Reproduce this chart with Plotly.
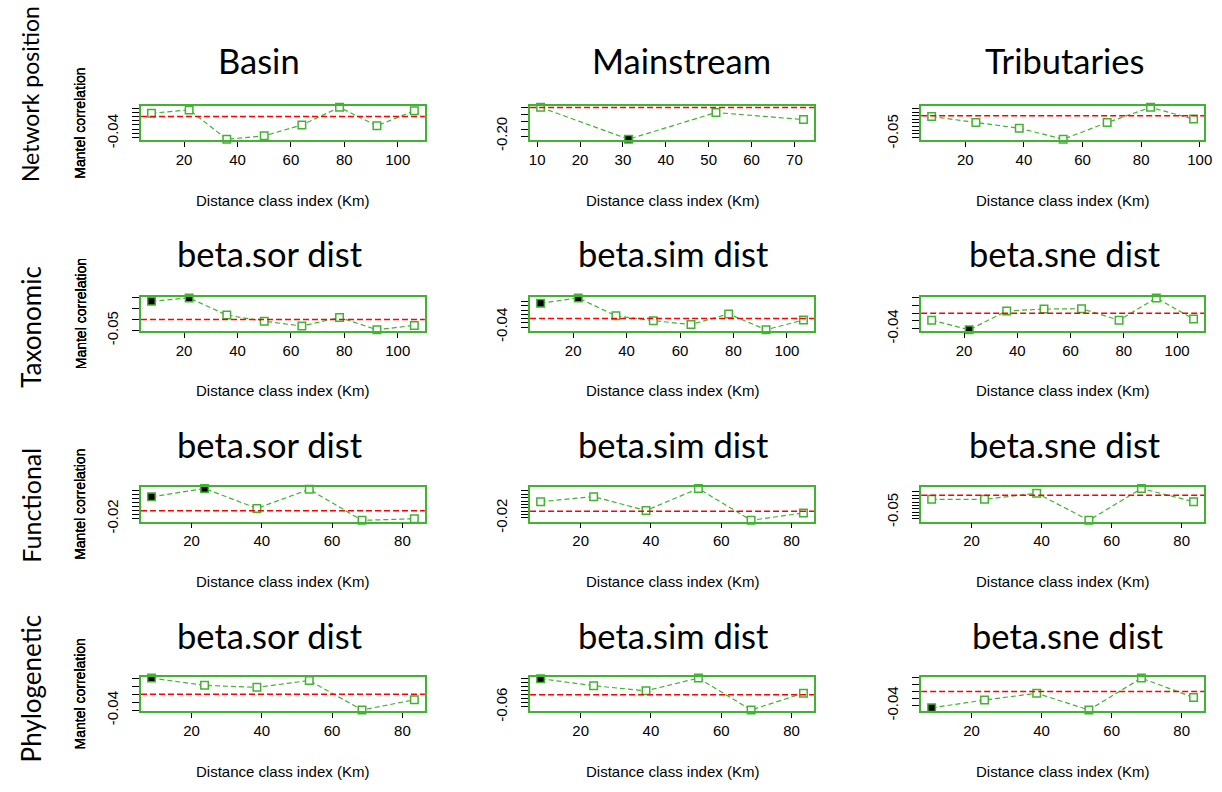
import plotly.graph_objects as go

W, H = 1222, 792

# ---------------- data ----------------
row_labels = ["Network position", "Taxonomic", "Functional", "Phylogenetic"]
panel_titles = ["Basin", "Mainstream", "Tributaries",
                "beta.sor dist", "beta.sim dist", "beta.sne dist",
                "beta.sor dist", "beta.sim dist", "beta.sne dist",
                "beta.sor dist", "beta.sim dist", "beta.sne dist"]

# distance class index (Km)
x_basin = [7.8, 21.9, 36.0, 50.0, 64.1, 78.2, 92.2, 106.2]
x_main = [10.8, 31.3, 51.7, 72.1]
x_trib = [8.5, 23.6, 38.4, 53.4, 68.4, 83.2, 97.9]
x_six = [8.6, 23.7, 38.6, 53.5, 68.5, 83.4]

# Mantel correlation values
r_net_basin = [0.008, 0.016, -0.054, -0.046, -0.020, 0.022, -0.022, 0.014]
r_net_main = [0.001, -0.221, -0.035, -0.084]
r_net_trib = [-0.002, -0.019, -0.035, -0.066, -0.019, 0.024, -0.009]
r_tax_sor = [0.083, 0.098, 0.020, -0.008, -0.030, 0.009, -0.047, -0.027]
r_tax_sim = [0.073, 0.098, 0.013, -0.010, -0.028, 0.022, -0.053, -0.007]
r_tax_sne = [-0.018, -0.043, 0.006, 0.011, 0.012, -0.018, 0.040, -0.015]
r_fun_sor = [0.035, 0.056, 0.006, 0.054, -0.024, -0.020]
r_fun_sim = [0.028, 0.043, 0.002, 0.067, -0.027, -0.005]
r_fun_sne = [-0.012, -0.012, 0.006, -0.074, 0.020, -0.019]
r_phy_sor = [0.040, 0.022, 0.017, 0.034, -0.039, -0.014]
r_phy_sim = [0.080, 0.045, 0.020, 0.083, -0.075, 0.008]
r_phy_sne = [-0.046, -0.024, -0.005, -0.052, 0.038, -0.017]

# significant classes (filled squares)
s_net_basin = [0, 0, 0, 0, 0, 0, 0, 0]
s_net_main = [0, 1, 0, 0]
s_net_trib = [0, 0, 0, 0, 0, 0, 0]
s_tax_sor = [1, 1, 0, 0, 0, 0, 0, 0]
s_tax_sim = [1, 1, 0, 0, 0, 0, 0, 0]
s_tax_sne = [0, 1, 0, 0, 0, 0, 0, 0]
s_fun_sor = [1, 1, 0, 0, 0, 0]
s_fun_sim = [0, 0, 0, 0, 0, 0]
s_fun_sne = [0, 0, 0, 0, 0, 0]
s_phy_sor = [1, 0, 0, 0, 0, 0]
s_phy_sim = [1, 0, 0, 0, 0, 0]
s_phy_sne = [1, 0, 0, 0, 0, 0]

# x tick values
xt_100 = [20, 40, 60, 80, 100]
xt_70 = [10, 20, 30, 40, 50, 60, 70]
xt_80 = [20, 40, 60, 80]

# y tick values and the single label R could fit
yt_net_basin = [-0.05, -0.04, -0.03, -0.02, -0.01, 0.0, 0.01, 0.02]
yt_net_main = [-0.20, -0.15, -0.10, -0.05, 0.0]
yt_net_trib = [-0.06, -0.05, -0.04, -0.03, -0.02, -0.01, 0.0, 0.01, 0.02]
yt_tax_sor = [-0.05, 0.0, 0.05, 0.10]
yt_tax_sim = [-0.04, -0.02, 0.0, 0.02, 0.04, 0.06, 0.08]
yt_tax_sne = [-0.04, -0.02, 0.0, 0.02, 0.04]
yt_fun_sor = [-0.02, -0.01, 0.0, 0.01, 0.02, 0.03, 0.04, 0.05]
yt_fun_sim = [-0.02, -0.01, 0.0, 0.01, 0.02, 0.03, 0.04, 0.05, 0.06]
yt_fun_sne = [-0.07, -0.06, -0.05, -0.04, -0.03, -0.02, -0.01, 0.0, 0.01]
yt_phy_sor = [-0.04, -0.02, 0.0, 0.02, 0.04]
yt_phy_sim = [-0.06, -0.04, -0.02, 0.0, 0.02, 0.04, 0.06, 0.08]
yt_phy_sne = [-0.04, -0.02, 0.0, 0.02, 0.04]
ylab = ["-0.04", "-0.20", "-0.05", "-0.05", "-0.04", "-0.04",
        "-0.02", "-0.02", "-0.05", "-0.04", "-0.06", "-0.04"]

panels = [
    (x_basin, r_net_basin, s_net_basin, xt_100, yt_net_basin),
    (x_main, r_net_main, s_net_main, xt_70, yt_net_main),
    (x_trib, r_net_trib, s_net_trib, xt_100, yt_net_trib),
    (x_basin, r_tax_sor, s_tax_sor, xt_100, yt_tax_sor),
    (x_basin, r_tax_sim, s_tax_sim, xt_100, yt_tax_sim),
    (x_basin, r_tax_sne, s_tax_sne, xt_100, yt_tax_sne),
    (x_six, r_fun_sor, s_fun_sor, xt_80, yt_fun_sor),
    (x_six, r_fun_sim, s_fun_sim, xt_80, yt_fun_sim),
    (x_six, r_fun_sne, s_fun_sne, xt_80, yt_fun_sne),
    (x_six, r_phy_sor, s_phy_sor, xt_80, yt_phy_sor),
    (x_six, r_phy_sim, s_phy_sim, xt_80, yt_phy_sim),
    (x_six, r_phy_sne, s_phy_sne, xt_80, yt_phy_sne),
]

# ---------------- layout geometry (pixels) ----------------
col_px = [(141, 427), (533, 819), (927, 1212)]
row_px = [(108, 143), (302, 337), (496, 531), (689, 724)]
title_cx = [[260, 686, 1071], [271, 677, 1072], [271, 677, 1072], [271, 677, 1075]]
title_cy = [62, 258, 452, 647]
rowlab_cy = [96, 333, 514, 701]
rowlab_size = [23, 26, 25, 26]

GREEN = "#40b330"
AXF = "Liberation Sans, Arial, sans-serif"
TITF = "Lato, Open Sans, sans-serif"

fig = go.Figure()
annotations = []
shapes = []
layout = dict(width=W, height=H, margin=dict(l=0, r=0, t=0, b=0),
              paper_bgcolor="white", plot_bgcolor="white", showlegend=False,
              autosize=False)


def pad(lo, hi, f=0.04):
    d = hi - lo
    return [lo - f * d, hi + f * d]


for i, (xs, rs, ss, xt, yt) in enumerate(panels):
    row, col = divmod(i, 3)
    k = i + 1
    xa = "xaxis" if k == 1 else f"xaxis{k}"
    ya = "yaxis" if k == 1 else f"yaxis{k}"
    xr = "x" if k == 1 else f"x{k}"
    yr = "y" if k == 1 else f"y{k}"
    x0, x1 = col_px[col]
    y0, y1 = row_px[row]
    ticktext = [ylab[i] if f"{v:.2f}" == ylab[i] else "" for v in yt]
    layout[xa] = dict(domain=[x0 / W, x1 / W], range=pad(min(xs), max(xs)),
                      anchor=yr, tickvals=xt, ticks="outside", ticklen=5,
                      tickwidth=1, tickcolor="black", showline=True, mirror=True,
                      linecolor=GREEN, linewidth=1.5, showgrid=False,
                      zeroline=False, tickfont=dict(family=AXF, size=15, color="black"))
    layout[ya] = dict(domain=[1 - y1 / H, 1 - y0 / H], range=pad(min(rs), max(rs)),
                      anchor=xr, tickvals=yt, ticktext=ticktext, tickangle=-90,
                      ticks="outside", ticklen=7, tickwidth=1, tickcolor="black",
                      showline=True, mirror=True, linecolor=GREEN, linewidth=1.5,
                      showgrid=False, zeroline=False, ticklabelstandoff=8,
                      tickfont=dict(family=AXF, size=15, color="black"))
    shapes.append(dict(type="line", xref=f"{xr} domain", yref=yr, x0=0, x1=1,
                       y0=0, y1=0, line=dict(color="red", width=1.5, dash="6px,3px")))
    fig.add_trace(go.Scatter(
        x=xs, y=rs, xaxis=xr, yaxis=yr, mode="lines+markers",
        line=dict(color=GREEN, width=1.2, dash="5px,3px"),
        marker=dict(symbol="square", size=7.5,
                    color=["black" if s else "white" for s in ss],
                    line=dict(color=GREEN, width=1.5)),
        cliponaxis=False))
    # axis titles
    annotations.append(dict(text="Mantel correlation", xref="paper", yref="paper",
                            x=80 / W, y=1 - (y0 + y1) / 2 / H, textangle=-90,
                            showarrow=False, font=dict(family=AXF, size=14, color="black"),
                            xanchor="center", yanchor="middle"))
    annotations.append(dict(text="Distance class index (Km)", xref="paper", yref="paper",
                            x=(x0 + x1) / 2 / W, y=1 - (y1 + 61) / H,
                            showarrow=False, font=dict(family=AXF, size=15, color="black"),
                            xanchor="center", yanchor="middle"))
    # panel title
    annotations.append(dict(text=panel_titles[i], xref="paper", yref="paper",
                            x=title_cx[row][col] / W, y=1 - title_cy[row] / H,
                            showarrow=False, font=dict(family=TITF, size=34.5, color="black"),
                            xanchor="center", yanchor="middle"))

for r in range(4):
    annotations.append(dict(text=row_labels[r], xref="paper", yref="paper",
                            x=30 / W, y=1 - rowlab_cy[r] / H, textangle=-90,
                            showarrow=False,
                            font=dict(family=TITF, size=rowlab_size[r], color="black"),
                            xanchor="center", yanchor="middle"))

layout["annotations"] = annotations
layout["shapes"] = shapes
fig.update_layout(**layout)
fig.write_html("out.html")
